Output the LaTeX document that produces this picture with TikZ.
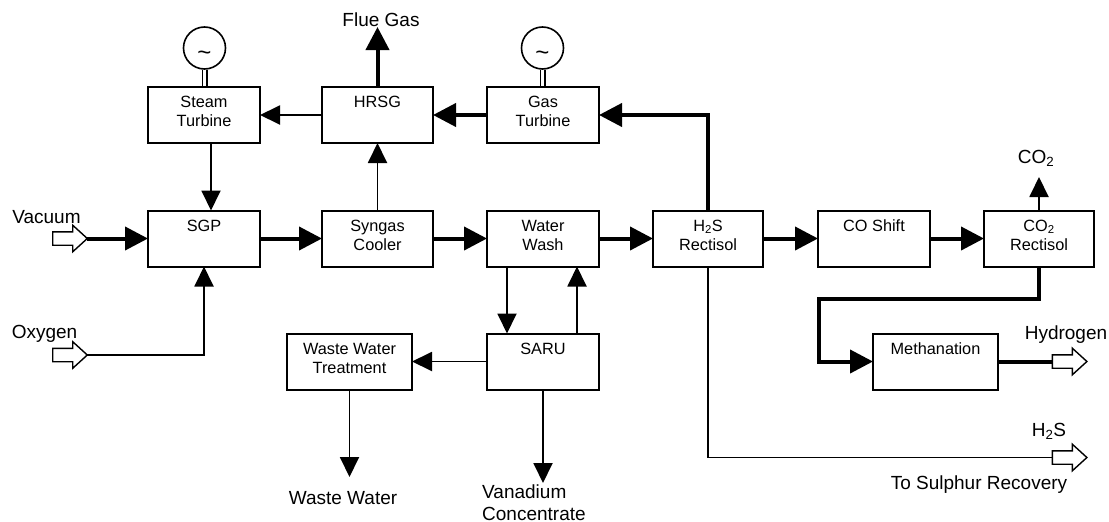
\documentclass[tikz,border=0pt]{standalone}
\usepackage{fontspec}
\setmainfont{Liberation Sans}
\usetikzlibrary{arrows.meta,calc}
\begin{document}
\begin{tikzpicture}[x=1pt,y=-1pt,
  box/.style={draw, line width=2pt, minimum width=112pt, minimum height=56pt, inner sep=0pt, outer sep=0pt},
  boxtext/.style={anchor=north, inner sep=0pt, align=center, font=\fontsize{16.3}{19}\selectfont},
  outer/.style={anchor=base, inner sep=0pt, font=\fontsize{19}{22}\selectfont},
  gen/.style={circle, draw, line width=1.6pt, minimum size=42pt, inner sep=0pt, outer sep=0pt},
  tarrow/.style={line width=1.9pt, -{Triangle[length=20pt,width=19pt]}},
  karrow/.style={line width=4pt, -{Triangle[length=23pt,width=23pt]}},
  tline/.style={line width=1.9pt},
  kline/.style={line width=4pt},
  hollow/.pic={
    \draw[line width=1.4pt, fill=white, line join=miter] (0,-6.7) -- (20,-6.7) -- (20,-13.3) -- (34.6,0) -- (20,13.3) -- (20,6.7) -- (0,6.7) -- cycle;
    \coordinate (-tail) at (0,0);
    \coordinate (-tip) at (34.6,0);
  }]
\useasboundingbox (0,0) rectangle (1109,522);
\fill[white] (0,0) rectangle (1109,522);

% boxes
\node[box, label={[boxtext]north:\rule{0pt}{20.3pt}Steam\\Turbine}] (st) at (204,115) {};
\node[box, minimum width=111pt, label={[boxtext]north:\rule{0pt}{20.3pt}HRSG}] (hrsg) at (377.5,115) {};
\node[box, label={[boxtext]north:\rule{0pt}{20.3pt}Gas\\Turbine}] (gt) at (543,115) {};
\node[box, label={[boxtext]north:\rule{0pt}{20.3pt}SGP}] (sgp) at (204,238.5) {};
\node[box, minimum width=111pt, label={[boxtext]north:\rule{0pt}{20.3pt}Syngas\\Cooler}] (sc) at (377.5,238.5) {};
\node[box, label={[boxtext]north:\rule{0pt}{20.3pt}Water\\Wash}] (ww) at (543,238.5) {};
\node[box, minimum width=110pt, label={[boxtext]north:\rule{0pt}{20.3pt}H\textsubscript{2}S\\Rectisol}] (h2s) at (708,238.5) {};
\node[box, label={[boxtext]north:\rule{0pt}{20.3pt}CO Shift}] (cos) at (874,238.5) {};
\node[box, minimum width=110pt, label={[boxtext]north:\rule{0pt}{20.3pt}CO\textsubscript{2}\\Rectisol}] (co2r) at (1039,238.5) {};
\node[box, minimum width=125pt, label={[boxtext]north:\rule{0pt}{20.3pt}Waste Water\\Treatment}] (wwt) at (349.5,361.5) {};
\node[box, label={[boxtext]north:\rule{0pt}{20.3pt}SARU}] (saru) at (543,361.5) {};
\node[box, minimum width=125pt, label={[boxtext]north:\rule{0pt}{20.3pt}Methanation}] (meth) at (935.5,361.5) {};

% generators
\node[gen] (g1) at (204.5,48) {};
\node[gen] (g2) at (542.5,48) {};
\node[anchor=base, inner sep=0pt, font=\fontsize{24}{24}\selectfont] (t1) at ($(g1.center)+(0,12)$) {\textasciitilde};
\node[anchor=base, inner sep=0pt, font=\fontsize{24}{24}\selectfont] (t2) at ($(g2.center)+(0,12)$) {\textasciitilde};
\draw[double, double distance=2.8pt, line width=1.6pt] ($(g1.south)+(0,0.8)$) -- ($(g1.south |- st.north)+(0,-1)$);
\draw[double, double distance=2.8pt, line width=1.6pt] ($(g2.south)+(0,0.8)$) -- ($(g2.south |- gt.north)+(0,-1)$);

% outer labels
\node[outer] (flue) at (381,26) {Flue Gas};
\node[outer] (co2) at (1036,163) {CO\textsubscript{2}};
\node[outer] (vaclbl) at (46.5,223) {Vacuum};
\node[outer] (oxylbl) at (44.5,338.5) {Oxygen};
\node[outer] (h2lbl) at (1066,339) {Hydrogen};
\node[outer] (h2slbl) at (1049,436) {H\textsubscript{2}S};
\node[outer] (sulphur) at (979,489) {To Sulphur Recovery};
\node[outer] (wwlbl) at (343,504) {Waste Water};
\node[anchor=north west, inner sep=0pt, align=left, font=\fontsize{19}{22}\selectfont] (vanlbl) at (482,483) {\rule{0pt}{15pt}Vanadium\\Concentrate};

% hollow arrows
\pic (vac) at (52.7,238.5) {hollow};
\pic (oxy) at (52.7,355) {hollow};
\pic (h2) at (1052.3,361.5) {hollow};
\pic (h2so) at (1052.3,457.5) {hollow};

% free ends
\coordinate (fluetip) at (377.5,27);
\coordinate (co2tip) at (1039,177);
\coordinate (bend1) at (1039,299);
\coordinate (bend2) at (819,299);
\coordinate (wwout) at (349.5,477);
\coordinate (vout) at (543,483);

% connectors
\draw[tarrow] (hrsg.west) -- (st.east);
\draw[karrow] (gt.west) -- (hrsg.east);
\draw[karrow] (hrsg.north) -- (fluetip);
\draw[tarrow] (sc.north) -- (hrsg.south);
\draw[tarrow] ([xshift=7pt]st.south) -- ([xshift=7pt]sgp.north);
\draw[karrow] (vac-tip) -- (sgp.west);
\draw[tarrow] (oxy-tip) -| (sgp.south);
\draw[karrow] (sgp.east) -- (sc.west);
\draw[karrow] (sc.east) -- (ww.west);
\draw[karrow] (ww.east) -- (h2s.west);
\draw[karrow] (h2s.east) -- (cos.west);
\draw[karrow] (cos.east) -- (co2r.west);
\draw[karrow] (h2s.north) |- (gt.east);
\draw[tarrow] (co2r.north) -- (co2tip);
\draw[karrow] (co2r.south) -- (bend1) -- (bend2) |- (meth.west);
\draw[kline] (meth.east) -- (h2-tail);
\draw[tline] (h2s.south) |- (h2so-tail);
\draw[tarrow] ([xshift=-36pt]ww.south) -- ([xshift=-36pt]saru.north);
\draw[tarrow] ([xshift=34pt]saru.north) -- ([xshift=34pt]ww.south);
\draw[tarrow] (saru.west) -- (wwt.east);
\draw[tarrow] (wwt.south) -- (wwout);
\draw[tarrow] (saru.south) -- (vout);
\end{tikzpicture}
\end{document}
